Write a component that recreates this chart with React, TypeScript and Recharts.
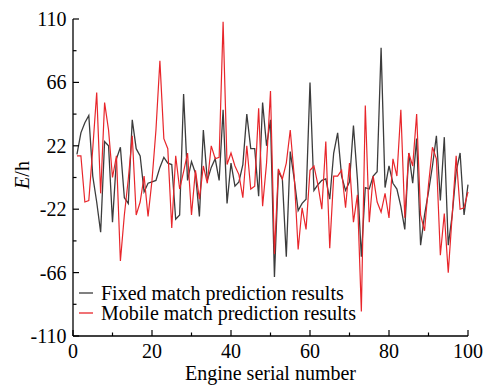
import React from "react";
import { LineChart, Line, XAxis, YAxis } from "recharts";

const serial: number[] = Array.from({ length: 100 }, (_, i) => i + 1);

const fixedResults: number[] = [
  16, 31, 38, 43, 1, -17, -38, 25, 22, -31,
  13, 21, -14, -18, 40, 20, 15, -10, -4, -3,
  -2, 7, 14, 10, 9, -29, -26, 58, -2, 11,
  3, -27, 33, -2, 7, 13, -2, 47, -18, 10,
  -6, -3, 9, 44, 20, 20, -13, 52, 22, 40,
  -69, 4, -1, -55, 18, -1, -23, -18, -15, 66,
  -9, -5, -2, -1, -15, 17, 31, 1, -9, -3,
  36, -1, -55, -7, -8, 1, 4, 90, -7, 8,
  -4, -8, -20, -36, 17, -4, 27, -47, -26, -10,
  8, 29, -16, 28, -47, -26, 4, 17, -26, -5,
];

const mobileResults: number[] = [
  15, 15, -17, -16, 20, 59, -11, 52, 33, 0,
  15, -58, -26, -1, 29, -26, -17, 1, -27, -2,
  33, 81, 27, 20, -35, 15, -8, 4, 17, -26,
  5, -15, 8, -4, 22, 13, 14, 108, 9, 17,
  8, 2, -14, 22, -8, -6, 48, -20, 10, 60,
  -53, 6, -1, 10, 33, 1, -50, -21, -36, 5,
  8, -5, -22, 25, -49, 1, 1, 5, -21, 10,
  -31, -12, -93, 50, -31, 1, -17, -24, -11, -28,
  13, 1, 47, -28, 17, 8, 44, -26, -37, -5,
  21, 13, -54, -25, -66, -26, 15, -22, -21, -10,
];

const xTicks: number[] = [0, 10, 20, 30, 40, 50, 60, 70, 80, 90, 100];
const xLabels: number[] = [0, 20, 40, 60, 80, 100];
const yTicks: number[] = [-110, -88, -66, -44, -22, 0, 22, 44, 66, 88, 110];
const yLabels: number[] = [-110, -66, -22, 22, 66, 110];

const seriesNames = ["Fixed match prediction results", "Mobile match prediction results"];
const seriesColors = ["#3c3c3c", "#e8262b"];

const data = serial.map((s, i) => ({
  serial: s,
  fixed: fixedResults[i],
  mobile: mobileResults[i],
}));

const W = 486;
const H = 386;
const PL = 73;
const PB = 336;
const FONT = "Liberation Serif, Times New Roman, serif";

const YTick = (props: any) => {
  const { y, payload } = props;
  const v = payload.value;
  const major = yLabels.includes(v);
  return (
    <g>
      <line x1={PL} x2={PL + (major ? 6 : 3.5)} y1={y} y2={y} stroke="#000" strokeWidth={1.2} />
      {major && (
        <text x={PL - 6.5} y={y + 7} textAnchor="end" style={{ fontFamily: FONT, fontSize: 20 }} fill="#000">
          {String(v)}
        </text>
      )}
    </g>
  );
};

const XTick = (props: any) => {
  const { x, payload } = props;
  const v = payload.value;
  const major = xLabels.includes(v);
  return (
    <g>
      <line x1={x} x2={x} y1={PB} y2={PB - (major ? 6 : 3.5)} stroke="#000" strokeWidth={1.2} />
      {major && (
        <text x={x} y={PB + 22} textAnchor="middle" style={{ fontFamily: FONT, fontSize: 20 }} fill="#000">
          {String(v)}
        </text>
      )}
    </g>
  );
};

const LegendBox = () => (
  <div
    style={{
      position: "absolute",
      left: 79,
      top: 283,
      fontFamily: FONT,
      fontSize: 20,
      lineHeight: "20px",
      color: "#000",
    }}
  >
    {seriesNames.map((n, i) => (
      <div key={n} style={{ display: "flex", alignItems: "center", height: 20, whiteSpace: "nowrap" }}>
        <svg width={14} height={4} style={{ display: "block" }}>
          <line x1={0} x2={14} y1={2} y2={2} stroke={seriesColors[i]} strokeWidth={1.3} />
        </svg>
        <span style={{ marginLeft: 8 }}>{n}</span>
      </div>
    ))}
  </div>
);

export default function App() {
  return (
    <div style={{ position: "absolute", left: 0, top: 0, width: W, height: H, background: "#fff" }}>
      <LineChart width={W} height={H} data={data} margin={{ top: 19, right: 18, left: 0, bottom: 0 }}>
        <XAxis
          dataKey="serial"
          type="number"
          domain={[0, 100]}
          ticks={xTicks}
          interval={0}
          tickSize={0}
          tickMargin={0}
          tick={<XTick />}
          height={50}
          axisLine={{ stroke: "#000", strokeWidth: 1.3 }}
          label={{
            content: () => (
              <text x={270.5} y={380} textAnchor="middle" style={{ fontFamily: FONT, fontSize: 20 }} fill="#000">
                Engine serial number
              </text>
            ),
          }}
        />
        <YAxis
          type="number"
          domain={[-110, 110]}
          ticks={yTicks}
          interval={0}
          tickSize={0}
          tickMargin={0}
          tick={<YTick />}
          width={73}
          axisLine={{ stroke: "#000", strokeWidth: 1.3 }}
          label={{
            content: () => (
              <text
                transform="translate(29,175) rotate(-90)"
                textAnchor="middle"
                style={{ fontFamily: FONT, fontSize: 20 }}
                fill="#000"
              >
                <tspan fontStyle="italic">E</tspan>
                <tspan>/h</tspan>
              </text>
            ),
          }}
        />
        <Line
          type="linear"
          dataKey="fixed"
          name={seriesNames[0]}
          stroke={seriesColors[0]}
          strokeWidth={1.3}
          dot={false}
          isAnimationActive={false}
        />
        <Line
          type="linear"
          dataKey="mobile"
          name={seriesNames[1]}
          stroke={seriesColors[1]}
          strokeWidth={1.2}
          dot={false}
          isAnimationActive={false}
        />
      </LineChart>
      <LegendBox />
    </div>
  );
}
